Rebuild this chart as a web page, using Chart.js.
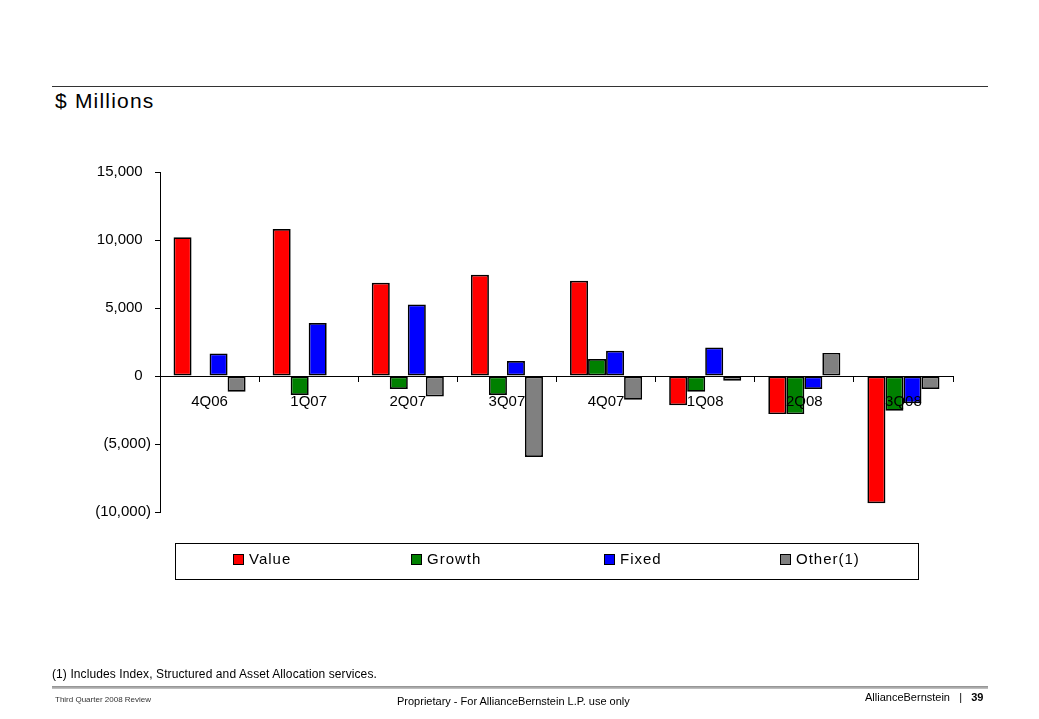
<!DOCTYPE html>
<html>
<head>
<meta charset="utf-8">
<script src="https://cdn.jsdelivr.net/npm/chart.js@4/dist/chart.umd.min.js"></script>
<style>
  html, body { margin: 0; padding: 0; background: #fff; }
  body { width: 1039px; height: 719px; position: relative; overflow: hidden; font-family: "Liberation Sans", Arial, sans-serif; color: #000; }
  .abs { position: absolute; white-space: nowrap; }
  #chartWrap { position: absolute; left: 0; top: 0; width: 1039px; height: 719px; }
  .leg-item { position: absolute; top: 550px; font-size: 15px; letter-spacing: 1px; line-height: 18px; }
  .leg-sw { position: absolute; top: 4px; width: 9px; height: 9px; border: 1px solid #000; }
</style>
</head>
<body>
<div class="abs" style="left:52px; top:86px; width:936px; height:1px; background:#333;"></div>
<div class="abs" style="left:55px; top:89px; font-size:21px; letter-spacing:1.2px;">$ Millions</div>

<div id="chartWrap"><canvas id="c" width="1039" height="719"></canvas></div>

<div id="legend" class="abs" style="left:175px; top:543px; width:742px; height:35px; border:1px solid #000;"></div>

<div class="abs" style="left:52px; top:667px; font-size:12px; letter-spacing:0.1px;">(1) Includes Index, Structured and Asset Allocation services.</div>
<div class="abs" style="left:52px; top:686px; width:936px; height:3px; background:linear-gradient(#8c8c8c,#c8c8c8);"></div>
<div class="abs" style="left:55px; top:695px; font-size:8px; color:#333;">Third Quarter 2008 Review</div>
<div class="abs" style="left:397px; top:695px; font-size:11px;">Proprietary - For AllianceBernstein L.P. use only</div>
<div class="abs" style="left:865px; top:691px; font-size:11px;">AllianceBernstein &nbsp; | &nbsp; <b>39</b></div>

<script>
const categories = ["4Q06", "1Q07", "2Q07", "3Q07", "4Q07", "1Q08", "2Q08", "3Q08"];
const seriesNames = ["Value", "Growth", "Fixed", "Other(1)"];
const valueData  = [10200, 10800, 6850, 7450, 7000, -2150, -2800, -9350];
const growthData = [0, -1400, -950, -1400, 1250, -1150, -2800, -2550];
const fixedData  = [1650, 3900, 5250, 1100, 1850, 2100, -950, -2000];
const otherData  = [-1150, 0, -1500, -5950, -1750, -350, 1700, -950];
const yTicks = [-10000, -5000, 0, 5000, 10000, 15000];
const colors = ["#FF0000", "#008000", "#0000FF", "#808080"];

function fmt(v) {
  const s = Math.abs(v).toLocaleString('en-US');
  return v < 0 ? "(" + s + ")" : s + "  ";
}

const allSeries = [valueData, growthData, fixedData, otherData];
const datasets = allSeries.map((d, i) => ({
  label: seriesNames[i],
  data: d,
  backgroundColor: colors[i],
  borderColor: "#000",
  borderWidth: 1.7,
  borderSkipped: false,
  categoryPercentage: 0.727,
  barPercentage: 1.0
}));

const font = { family: "'Liberation Sans', Arial, sans-serif", size: 15 };

new Chart(document.getElementById('c'), {
  type: 'bar',
  data: { labels: categories, datasets },
  options: {
    responsive: false,
    animation: false,
    devicePixelRatio: 1,
    layout: { padding: { left: 0, top: 172, right: 86, bottom: 207 } },
    plugins: { legend: { display: false }, tooltip: { enabled: false } },
    scales: {
      x: {
        position: { y: 0 },
        grid: { display: true, drawOnChartArea: false, drawTicks: true, tickLength: 5, color: '#000', offset: true, z: 1 },
        border: { display: true, color: '#000', width: 1, z: 1 },
        ticks: { padding: 12, font, color: '#000', maxRotation: 0, autoSkip: false, z: 2 }
      },
      y: {
        min: -10000,
        max: 15000,
        afterFit: s => { s.width = 160; },
        afterBuildTicks: s => { s.ticks = yTicks.map(v => ({ value: v })); },
        grid: { display: true, drawOnChartArea: false, drawTicks: true, tickLength: 5, color: '#000' },
        border: { display: true, color: '#000', width: 1 },
        ticks: { padding: 4, font, color: '#000', callback: v => fmt(v) }
      }
    }
  }
});

const legPos = [232, 410, 603, 779];
const leg = document.getElementById('legend');
seriesNames.forEach((n, i) => {
  const it = document.createElement('div');
  it.className = 'leg-item';
  it.style.left = (legPos[i] - 175) + 'px';
  it.style.top = '6px';
  it.innerHTML = '<span class="leg-sw" style="left:0;background:' + colors[i] + '"></span><span style="position:absolute;left:16px;">' + n + '</span>';
  leg.appendChild(it);
});
</script>
</body>
</html>
